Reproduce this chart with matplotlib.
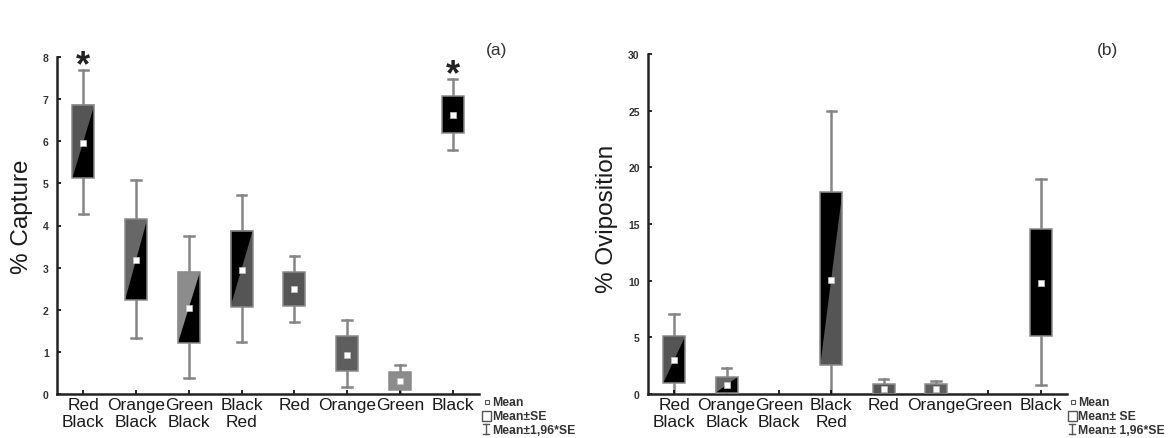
import matplotlib.pyplot as plt
from matplotlib.patches import Polygon, Rectangle

plt.rcParams['font.family'] = ['Liberation Sans', 'DejaVu Sans']

categories = ['Red\nBlack', 'Orange\nBlack', 'Green\nBlack', 'Black\nRed',
              'Red', 'Orange', 'Green', 'Black']
# box colours: (upper-left half, lower-right half)
box_colors = [('#555555', '#000000'), ('#676767', '#000000'), ('#8c8c8c', '#000000'),
              ('#000000', '#555555'), ('#555555', '#555555'), ('#5e5e5e', '#5e5e5e'),
              ('#8c8c8c', '#8c8c8c'), ('#000000', '#000000')]

# (a) % capture
cap_mean = [5.97, 3.18, 2.03, 2.95, 2.49, 0.93, 0.31, 6.63]
cap_se_lo = [5.12, 2.23, 1.20, 2.07, 2.08, 0.54, 0.10, 6.20]
cap_se_hi = [6.87, 4.15, 2.90, 3.88, 2.90, 1.37, 0.52, 7.07]
cap_ci_lo = [4.28, 1.34, 0.39, 1.23, 1.70, 0.17, -0.07, 5.80]
cap_ci_hi = [7.70, 5.07, 3.75, 4.73, 3.28, 1.76, 0.69, 7.48]
cap_signif = [0, 7]

# (b) % oviposition
ovi_mean = [3.03, 0.80, 0.0, 10.06, 0.44, 0.44, 0.0, 9.77]
ovi_se_lo = [0.95, 0.10, 0.0, 2.56, 0.0, 0.0, 0.0, 5.15]
ovi_se_hi = [5.09, 1.50, 0.0, 17.80, 0.84, 0.84, 0.0, 14.56]
ovi_ci_lo = [-1.0, -0.70, 0.0, -4.90, -0.45, -0.30, 0.0, 0.80]
ovi_ci_hi = [7.10, 2.32, 0.0, 25.00, 1.32, 1.17, 0.0, 18.97]

W, H = 1171, 439
fig = plt.figure(figsize=(W / 100, H / 100), dpi=100)


def panel(rect, mean, lo, hi, ci_lo, ci_hi, ymax, step, ylabel, lab_x, lab_y):
    ax = fig.add_axes(rect)
    for i in range(len(categories)):
        if ci_hi[i] == 0 and hi[i] == 0:
            continue
        ax.plot([i, i], [ci_lo[i], ci_hi[i]], color='#858585', lw=1.8, zorder=1)
        for v in (ci_lo[i], ci_hi[i]):
            ax.plot([i - 0.09, i + 0.09], [v, v], color='#858585', lw=1.8, zorder=1)
        x0, x1 = i - 0.21, i + 0.21
        c1, c2 = box_colors[i]
        ax.add_patch(Rectangle((x0, lo[i]), x1 - x0, hi[i] - lo[i], fc=c2, ec='none', zorder=2))
        if c1 != c2:
            ax.add_patch(Polygon([(x0, hi[i]), (x1, hi[i]), (x0, lo[i])], fc=c1, ec='none',
                                 zorder=2))
        ax.add_patch(Rectangle((x0, lo[i]), x1 - x0, hi[i] - lo[i], fill=False,
                               ec='#8a8a8a', lw=1.1, zorder=3))
        ax.plot(i, mean[i], 's', ms=4, mfc='white', mec='#c0c0c0', mew=0.5, zorder=4)
    ax.set_xlim(-0.5, 7.5)
    ax.set_ylim(0, ymax)
    ax.set_xticks(range(len(categories)))
    ax.set_xticklabels(categories, fontsize=12.5, color='#1a1a1a', linespacing=1.15)
    ax.set_yticks(range(0, ymax + 1, step))
    for t in ax.get_yticklabels():
        t.set_fontsize(7.5)
        t.set_fontweight('bold')
        t.set_color('#333333')
    ax.tick_params(axis='x', direction='in', length=3, width=1.2, pad=2)
    ax.tick_params(axis='y', direction='in', length=3, width=1.2, pad=6)
    for s in ('top', 'right'):
        ax.spines[s].set_visible(False)
    for s in ('left', 'bottom'):
        ax.spines[s].set_linewidth(1.8)
        ax.spines[s].set_color('#222222')
    ax.set_ylabel(ylabel, fontsize=17.5, color='#1a1a1a')
    ax.yaxis.set_label_coords(lab_x, lab_y)
    return ax


ax1 = panel([57 / W, 1 - 395 / H, 422 / W, 337 / H], cap_mean, cap_se_lo, cap_se_hi,
            cap_ci_lo, cap_ci_hi, 8, 1, '% Capture', -0.057, 0.53)
for i in cap_signif:
    ax1.text(i, cap_ci_hi[i] + 0.1, '*', ha='center', va='center', fontsize=26,
             fontweight='bold', color='#222222', clip_on=False)

ax2 = panel([648 / W, 1 - 395 / H, 419 / W, 340 / H], ovi_mean, ovi_se_lo, ovi_se_hi,
            ovi_ci_lo, ovi_ci_hi, 30, 5, '% Oviposition', -0.072, 0.518)

# overlay in pixel coordinates for the panel tags and the legends
ov = fig.add_axes([0, 0, 1, 1])
ov.set_xlim(0, W)
ov.set_ylim(H, 0)
ov.axis('off')
ov.text(497, 51, '(a)', ha='center', va='center', fontsize=12.5, color='#333333')
ov.text(1107, 51, '(b)', ha='center', va='center', fontsize=12.5, color='#333333')


def legend(x, labels):
    ov.plot(x + 1, 403, 's', ms=3.5, mfc='white', mec='#555555', mew=0.8)
    ov.add_patch(Rectangle((x - 4, 412), 9, 10, fill=False, ec='#555555', lw=1.0))
    ov.plot([x, x], [425, 435], color='#555555', lw=1.0)
    ov.plot([x - 3, x + 3], [425, 425], color='#555555', lw=1.0)
    ov.plot([x - 3, x + 3], [435, 435], color='#555555', lw=1.0)
    for y, t in zip((403, 417, 431), labels):
        ov.text(x + 6, y, t, ha='left', va='center', fontsize=8.8, fontweight='bold',
                color='#333333')


legend(486, ['Mean', 'Mean±SE', 'Mean±1,96*SE'])
legend(1072, ['Mean', 'Mean± SE', 'Mean± 1,96*SE'])

fig.savefig('out.png', dpi=100)
